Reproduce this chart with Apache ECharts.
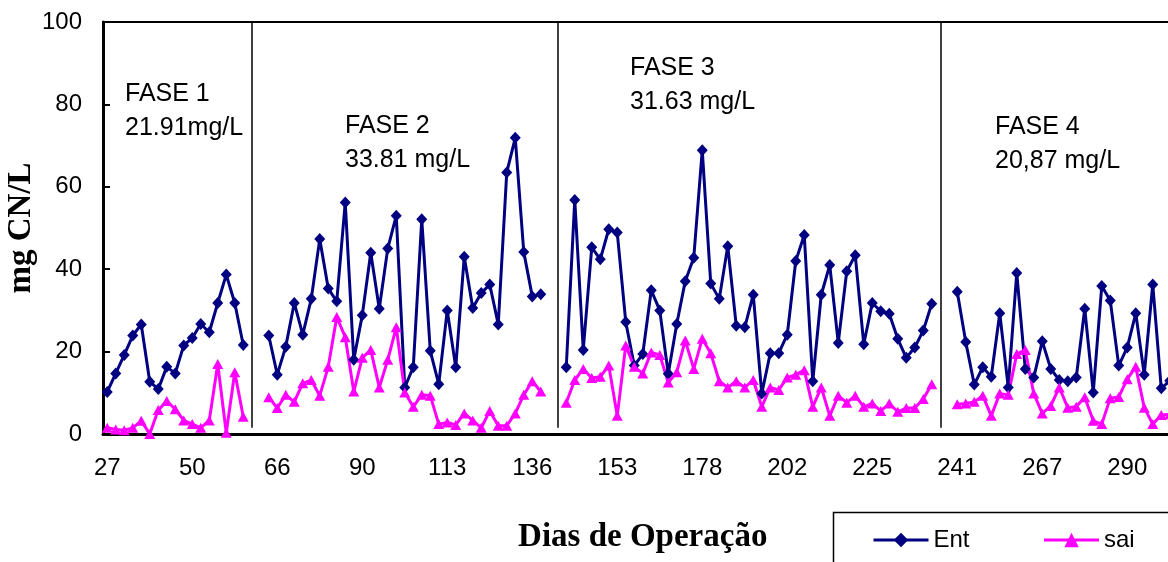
<!DOCTYPE html>
<html>
<head>
<meta charset="utf-8">
<script src="https://cdn.jsdelivr.net/npm/echarts@6/dist/echarts.min.js"></script>
<style>
  html, body { margin: 0; padding: 0; background: #fff; }
  #chart { width: 1168px; height: 562px; }
</style>
</head>
<body>
<div id="chart"></div>
<script>
'use strict';

// operating day for each sample (only every 10th is printed on the axis)
const days = [
    27, 29, 31, 34, 36, 38, 41, 43, 45, 48,
    50, 52, 53, 55, 56, 58, 59, 61, 62, 64,
    66, 69, 71, 73, 76, 78, 80, 83, 85, 87,
    90, 92, 94, 97, 99, 101, 104, 106, 108, 111,
    113, 115, 118, 120, 122, 125, 127, 129, 132, 134,
    136, 138, 139, 141, 143, 144, 146, 148, 149, 151,
    153, 155, 158, 160, 163, 165, 168, 170, 173, 175,
    178, 180, 183, 185, 188, 190, 192, 195, 197, 200,
    202, 204, 206, 209, 211, 213, 216, 218, 220, 223,
    225, 227, 228, 230, 232, 233, 235, 236, 238, 239,
    241, 244, 246, 249, 251, 254, 256, 259, 262, 264,
    267, 269, 271, 274, 276, 278, 281, 283, 285, 288,
    290, 292, 295, 297, 299, 302, 304,
];

const ent = [
    10.2, 14.7, 19.2, 23.9, 26.6, 12.7, 10.9, 16.3, 14.7, 21.5,
    23.3, 26.7, 24.7, 31.8, 38.7, 31.8, 21.6, null, null, 23.9,
    14.4, 21.2, 31.8, 24.1, 32.8, 47.3, 35.3, 32.2, 56.2, 18.0,
    28.8, 44.0, 30.4, 45.0, 53.0, 11.3, 16.2, 52.1, 20.2, 12.1,
    30.0, 16.2, 43.0, 30.6, 34.2, 36.3, 26.6, 63.5, 71.9, 44.2,
    33.4, 33.9, null, null, 16.2, 56.8, 20.4, 45.3, 42.4, 49.7,
    48.9, 27.2, 16.6, 19.4, 34.9, 30.0, 14.6, 26.7, 37.1, 42.8,
    68.9, 36.5, 32.8, 45.6, 26.3, 25.9, 33.8, 9.8, 19.6, 19.6,
    24.1, 42.0, 48.3, 12.8, 33.8, 41.0, 22.1, 39.5, 43.4, 21.8,
    31.8, 29.8, 29.2, 23.1, 18.5, 21.0, 25.1, 31.6, null, null,
    34.5, 22.3, 12.0, 16.2, 13.9, 29.3, 11.3, 39.1, 15.8, 13.7,
    22.5, 15.8, 13.1, 12.8, 13.7, 30.4, 10.1, 35.9, 32.4, 16.6,
    21.0, 29.3, 14.4, 36.3, 11.1, 12.9, 30.0,
];

const sai = [
    1.5, 1.1, 0.9, 1.5, 3.2, 0.0, 5.8, 8.0, 6.0, 3.3,
    2.4, 1.5, 3.3, 17.0, 0.3, 15.0, 4.2, null, null, 8.9,
    6.3, 9.5, 7.8, 12.3, 13.1, 9.3, 16.3, 28.4, 23.5, 10.3,
    18.5, 20.4, 11.3, 18.0, 25.9, 10.1, 6.6, 9.5, 9.3, 2.4,
    2.8, 2.2, 5.0, 3.3, 1.5, 5.6, 2.0, 2.0, 5.0, 9.5,
    12.8, 10.3, null, null, 7.6, 13.1, 15.8, 13.6, 13.9, 16.6,
    4.4, 21.5, 16.3, 14.7, 19.8, 19.2, 12.5, 15.0, 22.7, 15.8,
    23.1, 19.6, 12.8, 11.3, 12.8, 11.3, 13.1, 6.6, 11.3, 10.7,
    13.7, 14.4, 15.5, 6.6, 11.3, 4.4, 9.3, 7.6, 9.3, 6.6,
    7.4, 5.6, 7.4, 5.4, 6.3, 6.3, 8.5, 12.1, null, null,
    7.2, 7.4, 7.8, 9.3, 4.4, 9.8, 9.5, 19.4, 20.4, 9.8,
    5.0, 6.8, 11.3, 6.4, 6.6, 8.9, 3.2, 2.4, 8.7, 9.0,
    13.3, 16.3, 6.4, 2.4, 4.6, 4.8, 5.0,
];

// sample index where each phase separator is drawn
const phaseBreaks = [17, 53, 98];

const phaseNotes = [
    { text: 'FASE 1\n21.91mg/L', x: 125, y: 77 },
    { text: 'FASE 2\n33.81 mg/L', x: 345, y: 109 },
    { text: 'FASE 3\n31.63 mg/L', x: 630, y: 51 },
    { text: 'FASE 4\n20,87 mg/L', x: 995, y: 110 },
];

const sans = 'Liberation Sans, Arial, sans-serif';
const serif = 'Liberation Serif, Times New Roman, serif';

const chart = echarts.init(document.getElementById('chart'));

const notes = phaseNotes.map((n) => ({
    type: 'text',
    left: n.x,
    top: n.y,
    style: {
        text: n.text,
        font: '25px Liberation Sans, Arial, sans-serif',
        lineHeight: 34,
        fill: '#000',
    },
}));

// frame round the legend, it runs off the bottom right corner like the original
notes.push({
    type: 'rect',
    left: 831,
    top: 510,
    silent: true,
    shape: { width: 400, height: 100 },
    style: { fill: 'none', stroke: '#000', lineWidth: 1.5 },
});

chart.setOption({
    animation: false,
    backgroundColor: '#fff',
    grid: {
        left: 103, top: 22, right: -14.5, bottom: 128,
        show: true, borderColor: '#000', borderWidth: 2,
        outerBoundsMode: 'none',
    },
    legend: {
        left: 872, top: 528,
        padding: 0,
        itemWidth: 55, itemHeight: 18, itemGap: 73,
        selectedMode: false,
        lineStyle: { width: 3 },
        textStyle: { fontFamily: sans, fontSize: 24, color: '#000' },
        data: ['Ent', 'sai'],
    },
    xAxis: {
        type: 'category',
        data: days.map(String),
        boundaryGap: true,
        name: 'Dias de Operação',
        nameLocation: 'middle',
        nameGap: 87,
        nameMoveOverlap: false,
        nameTextStyle: { fontFamily: serif, fontWeight: 'bold', fontSize: 33, color: '#000' },
        axisLine: { lineStyle: { color: '#000', width: 3 } },
        axisTick: { interval: 9, length: 7, lineStyle: { color: '#000', width: 2 } },
        axisLabel: { interval: 9, margin: 22, fontFamily: sans, fontSize: 24, color: '#000' },
        splitLine: { show: false },
    },
    yAxis: {
        type: 'value',
        min: 0, max: 100, interval: 20,
        name: 'mg CN/L',
        nameLocation: 'middle',
        nameRotate: 90,
        nameGap: 65,
        nameMoveOverlap: false,
        nameTextStyle: { fontFamily: serif, fontWeight: 'bold', fontSize: 33, color: '#000' },
        axisLine: { show: true, lineStyle: { color: '#000', width: 3 } },
        axisTick: { show: true, inside: true, length: 7, lineStyle: { color: '#000', width: 2 } },
        axisLabel: { margin: 21, fontFamily: sans, fontSize: 24, color: '#000' },
        splitLine: { show: false },
    },
    series: [
        {
            name: 'Ent',
            type: 'line',
            data: ent,
            symbol: 'diamond',
            symbolSize: [11, 12],
            showAllSymbol: true,
            color: '#000080',
            lineStyle: { width: 3, color: '#000080' },
            itemStyle: { color: '#000080' },
            markLine: {
                silent: true,
                symbol: 'none',
                label: { show: false },
                lineStyle: { color: '#000', width: 1.5, type: 'solid' },
                data: phaseBreaks.map((i) => [{ coord: [i, 100] }, { coord: [i, 1.5] }]),
            },
        },
        {
            name: 'sai',
            type: 'line',
            data: sai,
            symbol: 'triangle',
            symbolSize: [11, 10],
            showAllSymbol: true,
            color: '#FF00FF',
            lineStyle: { width: 3, color: '#FF00FF' },
            itemStyle: { color: '#FF00FF' },
        },
    ],
    graphic: notes,
});
</script>
</body>
</html>
